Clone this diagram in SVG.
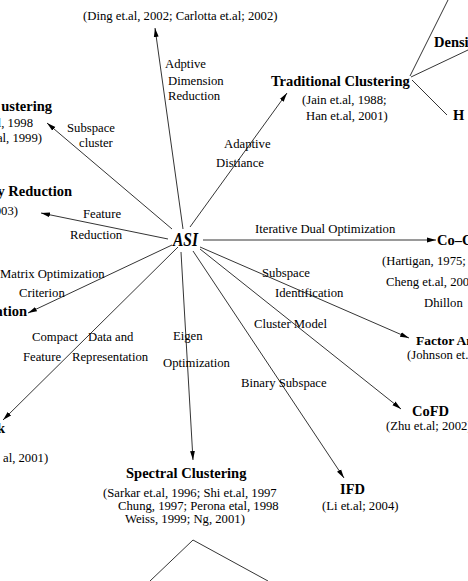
<svg xmlns="http://www.w3.org/2000/svg" width="468" height="581" viewBox="0 0 468 581">
<style>
text{font-family:"Liberation Serif","Times New Roman",serif;font-size:12.7px;fill:#000}
.t{font-weight:bold;font-size:14.5px}
.e{text-anchor:end}
.c line{stroke:#000;stroke-width:0.8;fill:none}
.ar{marker-end:url(#ah)}
</style>
<defs>
<marker id="ah" markerWidth="9" markerHeight="6" refX="9" refY="3" orient="auto" markerUnits="userSpaceOnUse"><path d="M0,0.6 L9,3 L0,5.4 z" fill="#000"/></marker>
</defs>
<rect width="468" height="581" fill="#fff"/>
<g id="connectors" class="c">
<line class="ar" x1="183" y1="229" x2="155" y2="28"/>
<line class="ar" x1="172" y1="229" x2="47" y2="123"/>
<line class="ar" x1="190" y1="227" x2="287" y2="93"/>
<line class="ar" x1="168" y1="239" x2="41" y2="213"/>
<line class="ar" x1="203" y1="240" x2="436" y2="240"/>
<line class="ar" x1="200" y1="247" x2="409" y2="338"/>
<line class="ar" x1="200" y1="249" x2="401" y2="409"/>
<line class="ar" x1="193" y1="251" x2="344" y2="478"/>
<line class="ar" x1="181" y1="252" x2="193" y2="460"/>
<line class="ar" x1="178" y1="247" x2="3" y2="420"/>
<line class="ar" x1="172" y1="245" x2="28" y2="313"/>
<line x1="410" y1="76" x2="448" y2="0"/>
<line x1="411" y1="77" x2="468" y2="50"/>
<line x1="412" y1="80" x2="447" y2="115"/>
<line x1="193" y1="540" x2="150" y2="581"/>
<line x1="193" y1="540" x2="268" y2="581"/>
</g>
<g id="edge-labels">
<text x="165" y="68">Adptive</text>
<text x="168" y="85">Dimension</text>
<text x="168" y="100">Reduction</text>
<text x="67" y="132">Subspace</text>
<text x="79" y="147">cluster</text>
<text x="224" y="148">Adaptive</text>
<text x="216" y="167">Distiance</text>
<text x="83" y="218">Feature</text>
<text x="70" y="239">Reduction</text>
<text x="255" y="233">Iterative Dual Optimization</text>
<text x="262" y="277">Subspace</text>
<text x="275" y="297">Identification</text>
<text x="0" y="278">Matrix Optimization</text>
<text x="19" y="297">Criterion</text>
<text x="254" y="328">Cluster Model</text>
<text x="32" y="341">Compact</text>
<text x="88" y="341">Data and</text>
<text x="23" y="361">Feature</text>
<text x="72" y="361">Representation</text>
<text x="173" y="340">Eigen</text>
<text x="163" y="367">Optimization</text>
<text x="241" y="387">Binary Subspace</text>
</g>
<g id="node-asi">
<text x="173" y="246" textLength="25" lengthAdjust="spacingAndGlyphs" style="font-weight:bold;font-style:italic;font-size:18px">ASI</text>
</g>
<g id="node-top">
<text x="83" y="20">(Ding et.al, 2002; Carlotta et.al; 2002)</text>
</g>
<g id="node-traditional">
<text class="t" x="271" y="86">Traditional Clustering</text>
<text x="302" y="104">(Jain et.al, 1988;</text>
<text x="306" y="120">Han et.al, 2001)</text>
</g>
<g id="node-density"><text class="t" x="434" y="47">Densi</text></g>
<g id="node-h"><text class="t" x="453" y="120">H</text></g>
<g id="node-subspace-clustering">
<text class="t e" x="52" y="111">ustering</text>
<text class="e" x="33" y="127">l, 1998</text>
<text class="e" x="42" y="142">al, 1999)</text>
</g>
<g id="node-dim-reduction">
<text class="t e" x="72" y="196">y Reduction</text>
<text class="e" x="18" y="215">003)</text>
</g>
<g id="node-coclustering">
<text class="t" x="437" y="245">Co–C</text>
<text x="382" y="265">(Hartigan, 1975;</text>
<text x="386" y="286">Cheng et.al, 200</text>
<text x="424" y="307">Dhillon</text>
</g>
<g id="node-matrix"><text class="t e" x="27" y="316">ation</text></g>
<g id="node-factor">
<text class="t" x="416" y="345" style="font-size:13.5px">Factor An</text>
<text x="407" y="359">(Johnson et.</text>
</g>
<g id="node-cofd">
<text class="t" x="412" y="416">CoFD</text>
<text x="386" y="430">(Zhu et.al; 2002)</text>
</g>
<g id="node-compact">
<text class="t e" x="5" y="433">k</text>
<text x="3" y="462">al, 2001)</text>
</g>
<g id="node-ifd">
<text class="t" x="340" y="494">IFD</text>
<text x="322" y="510">(Li et.al; 2004)</text>
</g>
<g id="node-spectral">
<text class="t" x="126" y="478">Spectral Clustering</text>
<text x="103" y="497">(Sarkar et.al, 1996; Shi et.al, 1997</text>
<text x="118" y="510">Chung, 1997; Perona etal, 1998</text>
<text x="125" y="523">Weiss, 1999; Ng, 2001)</text>
</g>
</svg>
